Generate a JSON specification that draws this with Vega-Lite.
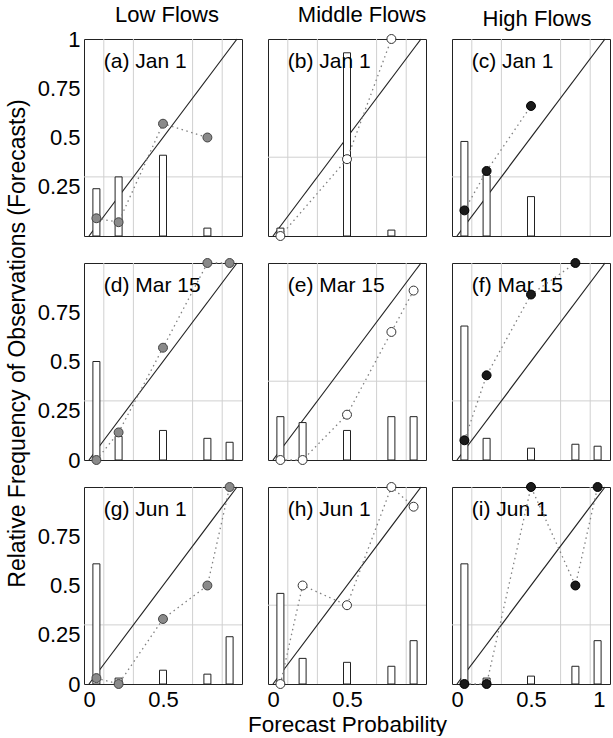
{
"$schema":"https://vega.github.io/schema/vega-lite/v6.json",
"background":"white",
"padding":{"left":5,"top":3,"right":0,"bottom":0},
"bounds":"flush",
"columns":3,
"spacing":{"row":27,"column":26},
"datasets":{
"panels":[
{"panel":"a","flow":"Low Flows","label":"(a) Jan 1","clim":0.3},
{"panel":"b","flow":"Middle Flows","label":"(b) Jan 1","clim":0.4},
{"panel":"c","flow":"High Flows","label":"(c) Jan 1","clim":0.3},
{"panel":"d","flow":"Low Flows","label":"(d) Mar 15","clim":0.3},
{"panel":"e","flow":"Middle Flows","label":"(e) Mar 15","clim":0.4},
{"panel":"f","flow":"High Flows","label":"(f) Mar 15","clim":0.3},
{"panel":"g","flow":"Low Flows","label":"(g) Jun 1","clim":0.3},
{"panel":"h","flow":"Middle Flows","label":"(h) Jun 1","clim":0.4},
{"panel":"i","flow":"High Flows","label":"(i) Jun 1","clim":0.3}
],
"edges":[{"edge":0.1},{"edge":0.3},{"edge":0.7},{"edge":0.9}],
"diag":[{"p":0},{"p":1}],
"rel":[
{"panel":"a","prob":0.05,"fcst":0.24,"obs":0.09},
{"panel":"a","prob":0.2,"fcst":0.30,"obs":0.07},
{"panel":"a","prob":0.5,"fcst":0.41,"obs":0.57},
{"panel":"a","prob":0.8,"fcst":0.04,"obs":0.50},
{"panel":"b","prob":0.05,"fcst":0.04,"obs":0.0},
{"panel":"b","prob":0.5,"fcst":0.93,"obs":0.39},
{"panel":"b","prob":0.8,"fcst":0.03,"obs":1.0},
{"panel":"c","prob":0.05,"fcst":0.48,"obs":0.13},
{"panel":"c","prob":0.2,"fcst":0.31,"obs":0.33},
{"panel":"c","prob":0.5,"fcst":0.20,"obs":0.66},
{"panel":"d","prob":0.05,"fcst":0.50,"obs":0.0},
{"panel":"d","prob":0.2,"fcst":0.12,"obs":0.14},
{"panel":"d","prob":0.5,"fcst":0.15,"obs":0.57},
{"panel":"d","prob":0.8,"fcst":0.11,"obs":1.0},
{"panel":"d","prob":0.95,"fcst":0.09,"obs":1.0},
{"panel":"e","prob":0.05,"fcst":0.22,"obs":0.0},
{"panel":"e","prob":0.2,"fcst":0.19,"obs":0.0},
{"panel":"e","prob":0.5,"fcst":0.15,"obs":0.23},
{"panel":"e","prob":0.8,"fcst":0.22,"obs":0.65},
{"panel":"e","prob":0.95,"fcst":0.22,"obs":0.86},
{"panel":"f","prob":0.05,"fcst":0.68,"obs":0.10},
{"panel":"f","prob":0.2,"fcst":0.11,"obs":0.43},
{"panel":"f","prob":0.5,"fcst":0.06,"obs":0.84},
{"panel":"f","prob":0.8,"fcst":0.08,"obs":1.0},
{"panel":"f","prob":0.95,"fcst":0.07},
{"panel":"g","prob":0.05,"fcst":0.61,"obs":0.03},
{"panel":"g","prob":0.2,"fcst":0.03,"obs":0.0},
{"panel":"g","prob":0.5,"fcst":0.07,"obs":0.33},
{"panel":"g","prob":0.8,"fcst":0.05,"obs":0.50},
{"panel":"g","prob":0.95,"fcst":0.24,"obs":1.0},
{"panel":"h","prob":0.05,"fcst":0.46,"obs":0.0},
{"panel":"h","prob":0.2,"fcst":0.13,"obs":0.50},
{"panel":"h","prob":0.5,"fcst":0.11,"obs":0.40},
{"panel":"h","prob":0.8,"fcst":0.09,"obs":1.0},
{"panel":"h","prob":0.95,"fcst":0.22,"obs":0.90},
{"panel":"i","prob":0.05,"fcst":0.61,"obs":0.0},
{"panel":"i","prob":0.2,"fcst":0.03,"obs":0.0},
{"panel":"i","prob":0.5,"fcst":0.04,"obs":1.0},
{"panel":"i","prob":0.8,"fcst":0.09,"obs":0.50},
{"panel":"i","prob":0.95,"fcst":0.22,"obs":1.0}
]
},
"concat":[
{"width":158,"height":197,"title":{"text":"Low Flows","dx":4,"dy":5},
"layer":[
{"data":{"name":"edges"},"mark":{"type":"rule","color":"#d0d0d0","strokeWidth":1},"encoding":{"x":{"field":"edge","type":"quantitative","scale":{"domain":[0,1]},"axis":null}}},
{"data":{"name":"panels"},"transform":[{"filter":"datum.panel==='a'"}],"mark":{"type":"rule","color":"#d0d0d0","strokeWidth":1},"encoding":{"y":{"field":"clim","type":"quantitative","scale":{"domain":[0,1]},"axis":{"values":[0.25,0.5,0.75,1],"format":".2~f","title":null}}}},
{"data":{"name":"diag"},"mark":{"type":"line","color":"#222222","strokeWidth":1.2},"encoding":{"x":{"field":"p","type":"quantitative","scale":{"domain":[0,1]},"axis":null},"y":{"field":"p","type":"quantitative","scale":{"domain":[0,1]},"axis":{"values":[0.25,0.5,0.75,1],"format":".2~f","title":null}}}},
{"data":{"name":"rel"},"transform":[{"filter":"datum.panel==='a'"}],"mark":{"type":"bar","width":7,"fill":"#ffffff","stroke":"#222222","strokeWidth":1},"encoding":{"x":{"field":"prob","type":"quantitative","scale":{"domain":[0,1]},"axis":null},"y":{"field":"fcst","type":"quantitative","scale":{"domain":[0,1]},"axis":{"values":[0.25,0.5,0.75,1],"format":".2~f","title":null}}}},
{"data":{"name":"panels"},"transform":[{"filter":"datum.panel==='a'"}],"mark":{"type":"text","align":"left","baseline":"middle","fontSize":21,"font":"Liberation Sans","color":"#000000"},"encoding":{"x":{"datum":0.1,"type":"quantitative","scale":{"domain":[0,1]},"axis":null},"y":{"datum":0.885,"type":"quantitative","scale":{"domain":[0,1]},"axis":{"values":[0.25,0.5,0.75,1],"format":".2~f","title":null}},"text":{"field":"label"}}},
{"data":{"name":"rel"},"transform":[{"filter":"datum.panel==='a' && isValid(datum.obs)"}],"mark":{"type":"line","color":"#808080","strokeDash":[1.5,3.5],"strokeWidth":1.3},"encoding":{"x":{"field":"prob","type":"quantitative","scale":{"domain":[0,1]},"axis":null},"y":{"field":"obs","type":"quantitative","scale":{"domain":[0,1]},"axis":{"values":[0.25,0.5,0.75,1],"format":".2~f","title":null}}}},
{"data":{"name":"rel"},"transform":[{"filter":"datum.panel==='a' && isValid(datum.obs)"}],"mark":{"type":"circle","size":80,"opacity":1,"fill":"#8a8a8a","stroke":"#444444","strokeWidth":1},"encoding":{"x":{"field":"prob","type":"quantitative","scale":{"domain":[0,1]},"axis":null},"y":{"field":"obs","type":"quantitative","scale":{"domain":[0,1]},"axis":{"values":[0.25,0.5,0.75,1],"format":".2~f","title":null}}}}
]},
{"width":158,"height":197,"title":{"text":"Middle Flows","dx":15},
"layer":[
{"data":{"name":"edges"},"mark":{"type":"rule","color":"#d0d0d0","strokeWidth":1},"encoding":{"x":{"field":"edge","type":"quantitative","scale":{"domain":[0,1]},"axis":null}}},
{"data":{"name":"panels"},"transform":[{"filter":"datum.panel==='b'"}],"mark":{"type":"rule","color":"#d0d0d0","strokeWidth":1},"encoding":{"y":{"field":"clim","type":"quantitative","scale":{"domain":[0,1]},"axis":null}}},
{"data":{"name":"diag"},"mark":{"type":"line","color":"#222222","strokeWidth":1.2},"encoding":{"x":{"field":"p","type":"quantitative","scale":{"domain":[0,1]},"axis":null},"y":{"field":"p","type":"quantitative","scale":{"domain":[0,1]},"axis":null}}},
{"data":{"name":"rel"},"transform":[{"filter":"datum.panel==='b'"}],"mark":{"type":"bar","width":7,"fill":"#ffffff","stroke":"#222222","strokeWidth":1},"encoding":{"x":{"field":"prob","type":"quantitative","scale":{"domain":[0,1]},"axis":null},"y":{"field":"fcst","type":"quantitative","scale":{"domain":[0,1]},"axis":null}}},
{"data":{"name":"panels"},"transform":[{"filter":"datum.panel==='b'"}],"mark":{"type":"text","align":"left","baseline":"middle","fontSize":21,"font":"Liberation Sans","color":"#000000"},"encoding":{"x":{"datum":0.1,"type":"quantitative","scale":{"domain":[0,1]},"axis":null},"y":{"datum":0.885,"type":"quantitative","scale":{"domain":[0,1]},"axis":null},"text":{"field":"label"}}},
{"data":{"name":"rel"},"transform":[{"filter":"datum.panel==='b' && isValid(datum.obs)"}],"mark":{"type":"line","color":"#808080","strokeDash":[1.5,3.5],"strokeWidth":1.3},"encoding":{"x":{"field":"prob","type":"quantitative","scale":{"domain":[0,1]},"axis":null},"y":{"field":"obs","type":"quantitative","scale":{"domain":[0,1]},"axis":null}}},
{"data":{"name":"rel"},"transform":[{"filter":"datum.panel==='b' && isValid(datum.obs)"}],"mark":{"type":"circle","size":80,"opacity":1,"fill":"#ffffff","stroke":"#333333","strokeWidth":1},"encoding":{"x":{"field":"prob","type":"quantitative","scale":{"domain":[0,1]},"axis":null},"y":{"field":"obs","type":"quantitative","scale":{"domain":[0,1]},"axis":null}}}
]},
{"width":158,"height":197,"title":{"text":"High Flows","dx":6},
"layer":[
{"data":{"name":"edges"},"mark":{"type":"rule","color":"#d0d0d0","strokeWidth":1},"encoding":{"x":{"field":"edge","type":"quantitative","scale":{"domain":[0,1]},"axis":null}}},
{"data":{"name":"panels"},"transform":[{"filter":"datum.panel==='c'"}],"mark":{"type":"rule","color":"#d0d0d0","strokeWidth":1},"encoding":{"y":{"field":"clim","type":"quantitative","scale":{"domain":[0,1]},"axis":null}}},
{"data":{"name":"diag"},"mark":{"type":"line","color":"#222222","strokeWidth":1.2},"encoding":{"x":{"field":"p","type":"quantitative","scale":{"domain":[0,1]},"axis":null},"y":{"field":"p","type":"quantitative","scale":{"domain":[0,1]},"axis":null}}},
{"data":{"name":"rel"},"transform":[{"filter":"datum.panel==='c'"}],"mark":{"type":"bar","width":7,"fill":"#ffffff","stroke":"#222222","strokeWidth":1},"encoding":{"x":{"field":"prob","type":"quantitative","scale":{"domain":[0,1]},"axis":null},"y":{"field":"fcst","type":"quantitative","scale":{"domain":[0,1]},"axis":null}}},
{"data":{"name":"panels"},"transform":[{"filter":"datum.panel==='c'"}],"mark":{"type":"text","align":"left","baseline":"middle","fontSize":21,"font":"Liberation Sans","color":"#000000"},"encoding":{"x":{"datum":0.1,"type":"quantitative","scale":{"domain":[0,1]},"axis":null},"y":{"datum":0.885,"type":"quantitative","scale":{"domain":[0,1]},"axis":null},"text":{"field":"label"}}},
{"data":{"name":"rel"},"transform":[{"filter":"datum.panel==='c' && isValid(datum.obs)"}],"mark":{"type":"line","color":"#808080","strokeDash":[1.5,3.5],"strokeWidth":1.3},"encoding":{"x":{"field":"prob","type":"quantitative","scale":{"domain":[0,1]},"axis":null},"y":{"field":"obs","type":"quantitative","scale":{"domain":[0,1]},"axis":null}}},
{"data":{"name":"rel"},"transform":[{"filter":"datum.panel==='c' && isValid(datum.obs)"}],"mark":{"type":"circle","size":80,"opacity":1,"fill":"#1a1a1a","stroke":"#000000","strokeWidth":1},"encoding":{"x":{"field":"prob","type":"quantitative","scale":{"domain":[0,1]},"axis":null},"y":{"field":"obs","type":"quantitative","scale":{"domain":[0,1]},"axis":null}}}
]},
{"width":158,"height":197,
"layer":[
{"data":{"name":"edges"},"mark":{"type":"rule","color":"#d0d0d0","strokeWidth":1},"encoding":{"x":{"field":"edge","type":"quantitative","scale":{"domain":[0,1]},"axis":null}}},
{"data":{"name":"panels"},"transform":[{"filter":"datum.panel==='d'"}],"mark":{"type":"rule","color":"#d0d0d0","strokeWidth":1},"encoding":{"y":{"field":"clim","type":"quantitative","scale":{"domain":[0,1]},"axis":{"values":[0,0.25,0.5,0.75],"format":".2~f","title":"Relative Frequency of Observations (Forecasts)","titlePadding":8,"titleFontSize":23,"titleY":80}}}},
{"data":{"name":"diag"},"mark":{"type":"line","color":"#222222","strokeWidth":1.2},"encoding":{"x":{"field":"p","type":"quantitative","scale":{"domain":[0,1]},"axis":null},"y":{"field":"p","type":"quantitative","scale":{"domain":[0,1]},"axis":{"values":[0,0.25,0.5,0.75],"format":".2~f","title":"Relative Frequency of Observations (Forecasts)","titlePadding":8,"titleFontSize":23,"titleY":80}}}},
{"data":{"name":"rel"},"transform":[{"filter":"datum.panel==='d'"}],"mark":{"type":"bar","width":7,"fill":"#ffffff","stroke":"#222222","strokeWidth":1},"encoding":{"x":{"field":"prob","type":"quantitative","scale":{"domain":[0,1]},"axis":null},"y":{"field":"fcst","type":"quantitative","scale":{"domain":[0,1]},"axis":{"values":[0,0.25,0.5,0.75],"format":".2~f","title":"Relative Frequency of Observations (Forecasts)","titlePadding":8,"titleFontSize":23,"titleY":80}}}},
{"data":{"name":"panels"},"transform":[{"filter":"datum.panel==='d'"}],"mark":{"type":"text","align":"left","baseline":"middle","fontSize":21,"font":"Liberation Sans","color":"#000000"},"encoding":{"x":{"datum":0.1,"type":"quantitative","scale":{"domain":[0,1]},"axis":null},"y":{"datum":0.885,"type":"quantitative","scale":{"domain":[0,1]},"axis":{"values":[0,0.25,0.5,0.75],"format":".2~f","title":"Relative Frequency of Observations (Forecasts)","titlePadding":8,"titleFontSize":23,"titleY":80}},"text":{"field":"label"}}},
{"data":{"name":"rel"},"transform":[{"filter":"datum.panel==='d' && isValid(datum.obs)"}],"mark":{"type":"line","color":"#808080","strokeDash":[1.5,3.5],"strokeWidth":1.3},"encoding":{"x":{"field":"prob","type":"quantitative","scale":{"domain":[0,1]},"axis":null},"y":{"field":"obs","type":"quantitative","scale":{"domain":[0,1]},"axis":{"values":[0,0.25,0.5,0.75],"format":".2~f","title":"Relative Frequency of Observations (Forecasts)","titlePadding":8,"titleFontSize":23,"titleY":80}}}},
{"data":{"name":"rel"},"transform":[{"filter":"datum.panel==='d' && isValid(datum.obs)"}],"mark":{"type":"circle","size":80,"opacity":1,"fill":"#8a8a8a","stroke":"#444444","strokeWidth":1},"encoding":{"x":{"field":"prob","type":"quantitative","scale":{"domain":[0,1]},"axis":null},"y":{"field":"obs","type":"quantitative","scale":{"domain":[0,1]},"axis":{"values":[0,0.25,0.5,0.75],"format":".2~f","title":"Relative Frequency of Observations (Forecasts)","titlePadding":8,"titleFontSize":23,"titleY":80}}}}
]},
{"width":158,"height":197,
"layer":[
{"data":{"name":"edges"},"mark":{"type":"rule","color":"#d0d0d0","strokeWidth":1},"encoding":{"x":{"field":"edge","type":"quantitative","scale":{"domain":[0,1]},"axis":null}}},
{"data":{"name":"panels"},"transform":[{"filter":"datum.panel==='e'"}],"mark":{"type":"rule","color":"#d0d0d0","strokeWidth":1},"encoding":{"y":{"field":"clim","type":"quantitative","scale":{"domain":[0,1]},"axis":null}}},
{"data":{"name":"diag"},"mark":{"type":"line","color":"#222222","strokeWidth":1.2},"encoding":{"x":{"field":"p","type":"quantitative","scale":{"domain":[0,1]},"axis":null},"y":{"field":"p","type":"quantitative","scale":{"domain":[0,1]},"axis":null}}},
{"data":{"name":"rel"},"transform":[{"filter":"datum.panel==='e'"}],"mark":{"type":"bar","width":7,"fill":"#ffffff","stroke":"#222222","strokeWidth":1},"encoding":{"x":{"field":"prob","type":"quantitative","scale":{"domain":[0,1]},"axis":null},"y":{"field":"fcst","type":"quantitative","scale":{"domain":[0,1]},"axis":null}}},
{"data":{"name":"panels"},"transform":[{"filter":"datum.panel==='e'"}],"mark":{"type":"text","align":"left","baseline":"middle","fontSize":21,"font":"Liberation Sans","color":"#000000"},"encoding":{"x":{"datum":0.1,"type":"quantitative","scale":{"domain":[0,1]},"axis":null},"y":{"datum":0.885,"type":"quantitative","scale":{"domain":[0,1]},"axis":null},"text":{"field":"label"}}},
{"data":{"name":"rel"},"transform":[{"filter":"datum.panel==='e' && isValid(datum.obs)"}],"mark":{"type":"line","color":"#808080","strokeDash":[1.5,3.5],"strokeWidth":1.3},"encoding":{"x":{"field":"prob","type":"quantitative","scale":{"domain":[0,1]},"axis":null},"y":{"field":"obs","type":"quantitative","scale":{"domain":[0,1]},"axis":null}}},
{"data":{"name":"rel"},"transform":[{"filter":"datum.panel==='e' && isValid(datum.obs)"}],"mark":{"type":"circle","size":80,"opacity":1,"fill":"#ffffff","stroke":"#333333","strokeWidth":1},"encoding":{"x":{"field":"prob","type":"quantitative","scale":{"domain":[0,1]},"axis":null},"y":{"field":"obs","type":"quantitative","scale":{"domain":[0,1]},"axis":null}}}
]},
{"width":158,"height":197,
"layer":[
{"data":{"name":"edges"},"mark":{"type":"rule","color":"#d0d0d0","strokeWidth":1},"encoding":{"x":{"field":"edge","type":"quantitative","scale":{"domain":[0,1]},"axis":null}}},
{"data":{"name":"panels"},"transform":[{"filter":"datum.panel==='f'"}],"mark":{"type":"rule","color":"#d0d0d0","strokeWidth":1},"encoding":{"y":{"field":"clim","type":"quantitative","scale":{"domain":[0,1]},"axis":null}}},
{"data":{"name":"diag"},"mark":{"type":"line","color":"#222222","strokeWidth":1.2},"encoding":{"x":{"field":"p","type":"quantitative","scale":{"domain":[0,1]},"axis":null},"y":{"field":"p","type":"quantitative","scale":{"domain":[0,1]},"axis":null}}},
{"data":{"name":"rel"},"transform":[{"filter":"datum.panel==='f'"}],"mark":{"type":"bar","width":7,"fill":"#ffffff","stroke":"#222222","strokeWidth":1},"encoding":{"x":{"field":"prob","type":"quantitative","scale":{"domain":[0,1]},"axis":null},"y":{"field":"fcst","type":"quantitative","scale":{"domain":[0,1]},"axis":null}}},
{"data":{"name":"panels"},"transform":[{"filter":"datum.panel==='f'"}],"mark":{"type":"text","align":"left","baseline":"middle","fontSize":21,"font":"Liberation Sans","color":"#000000"},"encoding":{"x":{"datum":0.1,"type":"quantitative","scale":{"domain":[0,1]},"axis":null},"y":{"datum":0.885,"type":"quantitative","scale":{"domain":[0,1]},"axis":null},"text":{"field":"label"}}},
{"data":{"name":"rel"},"transform":[{"filter":"datum.panel==='f' && isValid(datum.obs)"}],"mark":{"type":"line","color":"#808080","strokeDash":[1.5,3.5],"strokeWidth":1.3},"encoding":{"x":{"field":"prob","type":"quantitative","scale":{"domain":[0,1]},"axis":null},"y":{"field":"obs","type":"quantitative","scale":{"domain":[0,1]},"axis":null}}},
{"data":{"name":"rel"},"transform":[{"filter":"datum.panel==='f' && isValid(datum.obs)"}],"mark":{"type":"circle","size":80,"opacity":1,"fill":"#1a1a1a","stroke":"#000000","strokeWidth":1},"encoding":{"x":{"field":"prob","type":"quantitative","scale":{"domain":[0,1]},"axis":null},"y":{"field":"obs","type":"quantitative","scale":{"domain":[0,1]},"axis":null}}}
]},
{"width":158,"height":197,
"layer":[
{"data":{"name":"edges"},"mark":{"type":"rule","color":"#d0d0d0","strokeWidth":1},"encoding":{"x":{"field":"edge","type":"quantitative","scale":{"domain":[0,1]},"axis":{"values":[0,0.5],"format":".1~f","title":null}}}},
{"data":{"name":"panels"},"transform":[{"filter":"datum.panel==='g'"}],"mark":{"type":"rule","color":"#d0d0d0","strokeWidth":1},"encoding":{"y":{"field":"clim","type":"quantitative","scale":{"domain":[0,1]},"axis":{"values":[0,0.25,0.5,0.75],"format":".2~f","title":null}}}},
{"data":{"name":"diag"},"mark":{"type":"line","color":"#222222","strokeWidth":1.2},"encoding":{"x":{"field":"p","type":"quantitative","scale":{"domain":[0,1]},"axis":{"values":[0,0.5],"format":".1~f","title":null}},"y":{"field":"p","type":"quantitative","scale":{"domain":[0,1]},"axis":{"values":[0,0.25,0.5,0.75],"format":".2~f","title":null}}}},
{"data":{"name":"rel"},"transform":[{"filter":"datum.panel==='g'"}],"mark":{"type":"bar","width":7,"fill":"#ffffff","stroke":"#222222","strokeWidth":1},"encoding":{"x":{"field":"prob","type":"quantitative","scale":{"domain":[0,1]},"axis":{"values":[0,0.5],"format":".1~f","title":null}},"y":{"field":"fcst","type":"quantitative","scale":{"domain":[0,1]},"axis":{"values":[0,0.25,0.5,0.75],"format":".2~f","title":null}}}},
{"data":{"name":"panels"},"transform":[{"filter":"datum.panel==='g'"}],"mark":{"type":"text","align":"left","baseline":"middle","fontSize":21,"font":"Liberation Sans","color":"#000000"},"encoding":{"x":{"datum":0.1,"type":"quantitative","scale":{"domain":[0,1]},"axis":{"values":[0,0.5],"format":".1~f","title":null}},"y":{"datum":0.885,"type":"quantitative","scale":{"domain":[0,1]},"axis":{"values":[0,0.25,0.5,0.75],"format":".2~f","title":null}},"text":{"field":"label"}}},
{"data":{"name":"rel"},"transform":[{"filter":"datum.panel==='g' && isValid(datum.obs)"}],"mark":{"type":"line","color":"#808080","strokeDash":[1.5,3.5],"strokeWidth":1.3},"encoding":{"x":{"field":"prob","type":"quantitative","scale":{"domain":[0,1]},"axis":{"values":[0,0.5],"format":".1~f","title":null}},"y":{"field":"obs","type":"quantitative","scale":{"domain":[0,1]},"axis":{"values":[0,0.25,0.5,0.75],"format":".2~f","title":null}}}},
{"data":{"name":"rel"},"transform":[{"filter":"datum.panel==='g' && isValid(datum.obs)"}],"mark":{"type":"circle","size":80,"opacity":1,"fill":"#8a8a8a","stroke":"#444444","strokeWidth":1},"encoding":{"x":{"field":"prob","type":"quantitative","scale":{"domain":[0,1]},"axis":{"values":[0,0.5],"format":".1~f","title":null}},"y":{"field":"obs","type":"quantitative","scale":{"domain":[0,1]},"axis":{"values":[0,0.25,0.5,0.75],"format":".2~f","title":null}}}}
]},
{"width":158,"height":197,
"layer":[
{"data":{"name":"edges"},"mark":{"type":"rule","color":"#d0d0d0","strokeWidth":1},"encoding":{"x":{"field":"edge","type":"quantitative","scale":{"domain":[0,1]},"axis":{"values":[0,0.5],"format":".1~f","title":"Forecast Probability","titlePadding":3}}}},
{"data":{"name":"panels"},"transform":[{"filter":"datum.panel==='h'"}],"mark":{"type":"rule","color":"#d0d0d0","strokeWidth":1},"encoding":{"y":{"field":"clim","type":"quantitative","scale":{"domain":[0,1]},"axis":null}}},
{"data":{"name":"diag"},"mark":{"type":"line","color":"#222222","strokeWidth":1.2},"encoding":{"x":{"field":"p","type":"quantitative","scale":{"domain":[0,1]},"axis":{"values":[0,0.5],"format":".1~f","title":"Forecast Probability","titlePadding":3}},"y":{"field":"p","type":"quantitative","scale":{"domain":[0,1]},"axis":null}}},
{"data":{"name":"rel"},"transform":[{"filter":"datum.panel==='h'"}],"mark":{"type":"bar","width":7,"fill":"#ffffff","stroke":"#222222","strokeWidth":1},"encoding":{"x":{"field":"prob","type":"quantitative","scale":{"domain":[0,1]},"axis":{"values":[0,0.5],"format":".1~f","title":"Forecast Probability","titlePadding":3}},"y":{"field":"fcst","type":"quantitative","scale":{"domain":[0,1]},"axis":null}}},
{"data":{"name":"panels"},"transform":[{"filter":"datum.panel==='h'"}],"mark":{"type":"text","align":"left","baseline":"middle","fontSize":21,"font":"Liberation Sans","color":"#000000"},"encoding":{"x":{"datum":0.1,"type":"quantitative","scale":{"domain":[0,1]},"axis":{"values":[0,0.5],"format":".1~f","title":"Forecast Probability","titlePadding":3}},"y":{"datum":0.885,"type":"quantitative","scale":{"domain":[0,1]},"axis":null},"text":{"field":"label"}}},
{"data":{"name":"rel"},"transform":[{"filter":"datum.panel==='h' && isValid(datum.obs)"}],"mark":{"type":"line","color":"#808080","strokeDash":[1.5,3.5],"strokeWidth":1.3},"encoding":{"x":{"field":"prob","type":"quantitative","scale":{"domain":[0,1]},"axis":{"values":[0,0.5],"format":".1~f","title":"Forecast Probability","titlePadding":3}},"y":{"field":"obs","type":"quantitative","scale":{"domain":[0,1]},"axis":null}}},
{"data":{"name":"rel"},"transform":[{"filter":"datum.panel==='h' && isValid(datum.obs)"}],"mark":{"type":"circle","size":80,"opacity":1,"fill":"#ffffff","stroke":"#333333","strokeWidth":1},"encoding":{"x":{"field":"prob","type":"quantitative","scale":{"domain":[0,1]},"axis":{"values":[0,0.5],"format":".1~f","title":"Forecast Probability","titlePadding":3}},"y":{"field":"obs","type":"quantitative","scale":{"domain":[0,1]},"axis":null}}}
]},
{"width":158,"height":197,
"layer":[
{"data":{"name":"edges"},"mark":{"type":"rule","color":"#d0d0d0","strokeWidth":1},"encoding":{"x":{"field":"edge","type":"quantitative","scale":{"domain":[0,1]},"axis":{"values":[0,0.5,1],"format":".1~f","title":null,"labelAlign":{"condition":{"test":"datum.value === 1","value":"right"},"value":"center"}}}}},
{"data":{"name":"panels"},"transform":[{"filter":"datum.panel==='i'"}],"mark":{"type":"rule","color":"#d0d0d0","strokeWidth":1},"encoding":{"y":{"field":"clim","type":"quantitative","scale":{"domain":[0,1]},"axis":null}}},
{"data":{"name":"diag"},"mark":{"type":"line","color":"#222222","strokeWidth":1.2},"encoding":{"x":{"field":"p","type":"quantitative","scale":{"domain":[0,1]},"axis":{"values":[0,0.5,1],"format":".1~f","title":null,"labelAlign":{"condition":{"test":"datum.value === 1","value":"right"},"value":"center"}}},"y":{"field":"p","type":"quantitative","scale":{"domain":[0,1]},"axis":null}}},
{"data":{"name":"rel"},"transform":[{"filter":"datum.panel==='i'"}],"mark":{"type":"bar","width":7,"fill":"#ffffff","stroke":"#222222","strokeWidth":1},"encoding":{"x":{"field":"prob","type":"quantitative","scale":{"domain":[0,1]},"axis":{"values":[0,0.5,1],"format":".1~f","title":null,"labelAlign":{"condition":{"test":"datum.value === 1","value":"right"},"value":"center"}}},"y":{"field":"fcst","type":"quantitative","scale":{"domain":[0,1]},"axis":null}}},
{"data":{"name":"panels"},"transform":[{"filter":"datum.panel==='i'"}],"mark":{"type":"text","align":"left","baseline":"middle","fontSize":21,"font":"Liberation Sans","color":"#000000"},"encoding":{"x":{"datum":0.1,"type":"quantitative","scale":{"domain":[0,1]},"axis":{"values":[0,0.5,1],"format":".1~f","title":null,"labelAlign":{"condition":{"test":"datum.value === 1","value":"right"},"value":"center"}}},"y":{"datum":0.885,"type":"quantitative","scale":{"domain":[0,1]},"axis":null},"text":{"field":"label"}}},
{"data":{"name":"rel"},"transform":[{"filter":"datum.panel==='i' && isValid(datum.obs)"}],"mark":{"type":"line","color":"#808080","strokeDash":[1.5,3.5],"strokeWidth":1.3},"encoding":{"x":{"field":"prob","type":"quantitative","scale":{"domain":[0,1]},"axis":{"values":[0,0.5,1],"format":".1~f","title":null,"labelAlign":{"condition":{"test":"datum.value === 1","value":"right"},"value":"center"}}},"y":{"field":"obs","type":"quantitative","scale":{"domain":[0,1]},"axis":null}}},
{"data":{"name":"rel"},"transform":[{"filter":"datum.panel==='i' && isValid(datum.obs)"}],"mark":{"type":"circle","size":80,"opacity":1,"fill":"#1a1a1a","stroke":"#000000","strokeWidth":1},"encoding":{"x":{"field":"prob","type":"quantitative","scale":{"domain":[0,1]},"axis":{"values":[0,0.5,1],"format":".1~f","title":null,"labelAlign":{"condition":{"test":"datum.value === 1","value":"right"},"value":"center"}}},"y":{"field":"obs","type":"quantitative","scale":{"domain":[0,1]},"axis":null}}}
]}
],
"config":{
"view":{"stroke":"#222222","strokeWidth":1},
"axis":{"labelFont":"Liberation Sans","labelFontSize":22,"labelColor":"#000000","titleFont":"Liberation Sans","titleFontSize":22.5,"titleFontWeight":"normal","titleColor":"#000000","ticks":false,"domain":false,"grid":false,"labelPadding":4,"labelFlush":false},
"axisX":{"labelPadding":5},
"title":{"font":"Liberation Sans","fontSize":22,"fontWeight":"normal","color":"#000000","offset":6}
}
}
